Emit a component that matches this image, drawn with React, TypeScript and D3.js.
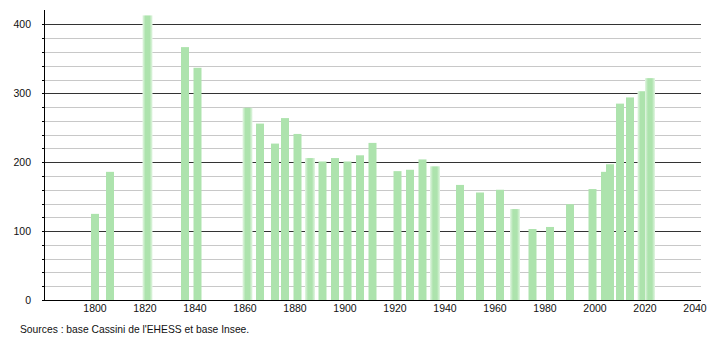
import React from "react";
import * as d3 from "d3";

const years = [1800, 1806, 1821, 1836, 1841, 1861, 1866, 1872, 1876, 1881, 1886, 1891, 1896, 1901, 1906, 1911, 1921, 1926, 1931, 1936, 1946, 1954, 1962, 1968, 1975, 1982, 1990, 1999, 2004, 2006, 2010, 2014, 2019, 2022];
const population = [125, 186, 413, 367, 337, 279, 256, 227, 264, 241, 206, 201, 206, 201, 210, 228, 187, 189, 204, 194, 167, 156, 160, 132, 103, 106, 139, 161, 186, 197, 285, 294, 303, 322];
const softYears = [1821, 1861, 1886, 1936, 1968, 2019, 2022];
const xTicks = [1800, 1820, 1840, 1860, 1880, 1900, 1920, 1940, 1960, 1980, 2000, 2020, 2040];
const yMajor = [0, 100, 200, 300, 400];
const yMinor = d3.range(20, 420, 20).filter((v) => v % 100 !== 0);
const sourceText = "Sources : base Cassini de l'EHESS et base Insee.";

export default function App() {
  const W = 710, H = 340;
  const left = 44, right = 701, top = 10, bottom = 300;
  const x = d3.scaleLinear().domain([1800, 2040]).range([95, 695]);
  const y = d3.scaleLinear().domain([0, 420]).range([bottom, top + 0.6]);
  const barW = 8;
  const font = "'Liberation Sans', Arial, sans-serif";
  const fill = "#ade3ad";
  return (
    <svg width={W} height={H} style={{ position: "absolute", left: 0, top: 0, background: "#fff" }} fontFamily={font}>
      <defs>
        <linearGradient id="soft" x1="0" x2="1" y1="0" y2="0">
          <stop offset="0" stopColor="#e4f6e4" />
          <stop offset="0.3" stopColor={fill} />
          <stop offset="0.7" stopColor={fill} />
          <stop offset="1" stopColor="#e4f6e4" />
        </linearGradient>
      </defs>
      {yMinor.map((v) => (
        <line key={"mn" + v} x1={left} x2={right} y1={Math.round(y(v)) + 0.5} y2={Math.round(y(v)) + 0.5} stroke="#c8c8c8" strokeWidth={1} />
      ))}
      {yMajor.filter((v) => v > 0).map((v) => (
        <line key={"mj" + v} x1={left} x2={right} y1={Math.round(y(v)) + 0.5} y2={Math.round(y(v)) + 0.5} stroke="#333" strokeWidth={1} />
      ))}
      {years.map((yr, i) => {
        const soft = softYears.includes(yr);
        const w = soft ? barW + 2 : barW;
        return (
          <rect key={yr} x={x(yr) - w / 2} y={y(population[i])} width={w} height={bottom - y(population[i])} fill={soft ? "url(#soft)" : fill} />
        );
      })}
      {/* y axis */}
      <line x1={left + 0.5} x2={left + 0.5} y1={top} y2={bottom} stroke="#000" />
      {d3.range(0, 420, 20).map((v) => (
        <line key={"t" + v} x1={left - 2} x2={left} y1={Math.round(y(v)) + 0.5} y2={Math.round(y(v)) + 0.5} stroke="#000" />
      ))}
      {yMajor.map((v) => (
        <text key={"yl" + v} x={31} y={y(v) + 3.7} fontSize={10.5} textAnchor="end" fill="#111">{v}</text>
      ))}
      {/* x axis */}
      <line x1={left} x2={right} y1={bottom + 0.5} y2={bottom + 0.5} stroke="#000" />
      {xTicks.map((t) => (
        <text key={"xl" + t} x={x(t)} y={312} fontSize={10.5} textAnchor="middle" fill="#111">{t}</text>
      ))}
      <text x={20} y={333} fontSize={10.3} fill="#111">{sourceText}</text>
    </svg>
  );
}
